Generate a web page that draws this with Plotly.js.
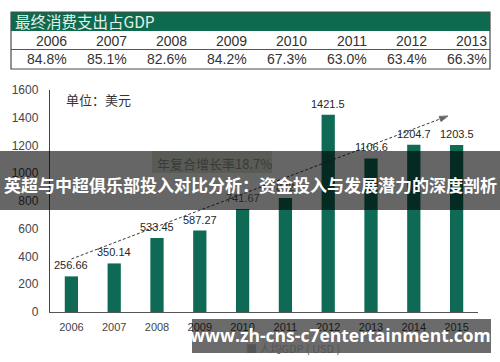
<!DOCTYPE html>
<html>
<head>
<meta charset="utf-8">
<script src="https://cdn.plot.ly/plotly-3.0.1.min.js"></script>
<style>html,body{margin:0;padding:0;background:#fff;}#chart{width:500px;height:362px;}</style>
</head>
<body>
<div id="chart"></div>
<script>
// ---- data ----
const tableTitle = '最终消费支出占GDP';
const tableYears = ['2006','2007','2008','2009','2010','2011','2012','2013'];
const tableShares = ['84.8%','85.1%','82.6%','84.2%','67.3%','63.0%','63.4%','66.3%'];

const years = ['2006','2007','2008','2009','2010','2011','2012','2013','2014','2015'];
const gdpPerCapita = [256.66, 350.14, 533.45, 587.27, 741.67, 822, 1421.5, 1106.6, 1204.7, 1203.5];
const barLabels = ['256.66','350.14','533.45','587.27','741.67','822','1421.5','1106.6','1204.7','1203.5'];

const trendX = [0, 8.8];
const trendY = [382, 1413];
const cagrText = '年复合增长率18.7%';
const unitText = '单位：美元';
const legendText = '■ 人均GDP ( USD )';
const overlayTitle = '英超与中超俱乐部投入对比分析：资金投入与发展潜力的深度剖析';
const watermark = 'www.zh-cns-c7entertainment.com';

// ---- helpers (pixel -> paper) ----
const W = 500, H = 362;
const px = x => x / W;
const py = y => 1 - y / H;
const CJK = '"Noto Sans CJK SC", "Noto Sans", sans-serif';
const NUM = '"Liberation Sans", Arial, sans-serif';

const idx = years.map((_, i) => i);

const traces = [
  {
    type: 'bar', x: idx, y: gdpPerCapita, width: 0.31,
    marker: {color: '#0e6a55'}, hoverinfo: 'skip', showlegend: false
  },
  {
    type: 'scatter', mode: 'lines+markers', x: trendX, y: trendY,
    line: {color: '#3a3a3a', width: 1, dash: '3px,2px'},
    marker: {symbol: 'arrow', angleref: 'previous', size: [0, 9], color: '#222'},
    hoverinfo: 'skip', showlegend: false
  }
];

const shapes = [];
const annotations = [];

// table
const tLeft = 11, tRight = 490, colW = 60, colStart = 10;
shapes.push({type:'rect', xref:'paper', yref:'paper', x0:px(tLeft), x1:px(tRight), y0:py(31), y1:py(12),
  fillcolor:'#0d6a4f', line:{width:0}});
shapes.push({type:'rect', xref:'paper', yref:'paper', x0:px(tLeft), x1:px(tRight), y0:py(69), y1:py(12),
  fillcolor:'rgba(0,0,0,0)', line:{color:'#4a4a4a', width:1.2}});
shapes.push({type:'line', xref:'paper', yref:'paper', x0:px(tLeft), x1:px(tRight), y0:py(49.5), y1:py(49.5),
  line:{color:'#555', width:1}});
annotations.push({xref:'paper', yref:'paper', x:px(13), y:py(21.5), xanchor:'left', yanchor:'middle',
  text: tableTitle, showarrow:false, font:{family:CJK, size:15.5, color:'#e6f0e6'}});
tableYears.forEach((yr, i) => {
  const xr = colStart + colW * (i + 1) - 1;
  annotations.push({xref:'paper', yref:'paper', x:px(xr), y:py(41), xanchor:'right', yanchor:'middle',
    text: yr, showarrow:false, font:{family:NUM, size:14, color:'#333'}});
  annotations.push({xref:'paper', yref:'paper', x:px(xr), y:py(59.5), xanchor:'right', yanchor:'middle',
    text: tableShares[i], showarrow:false, font:{family:NUM, size:14, color:'#333'}});
});

// bar value labels
idx.forEach(i => {
  annotations.push({x: i, y: gdpPerCapita[i], xref:'x', yref:'y', yshift: 11, yanchor:'middle',
    text: barLabels[i], showarrow:false, font:{family:NUM, size:11, color:'#262626'}});
});

// unit label
annotations.push({xref:'paper', yref:'paper', x:px(64), y:py(100), xanchor:'left', yanchor:'middle',
  text: unitText, showarrow:false, font:{family:CJK, size:13, color:'#333'}});

// CAGR box
shapes.push({type:'rect', xref:'paper', yref:'paper', x0:px(152), x1:px(272), y0:py(173), y1:py(151),
  fillcolor:'#dbe6d3', line:{width:0}, layer:'below'});
annotations.push({xref:'paper', yref:'paper', x:px(214), y:py(163), xanchor:'center', yanchor:'middle',
  text: cagrText, showarrow:false, font:{family:CJK, size:13, color:'#3a3a3a'}});

// legend (partly hidden)
annotations.push({xref:'paper', yref:'paper', x:px(244), y:py(348), xanchor:'left', yanchor:'middle',
  text: legendText, showarrow:false, font:{family:CJK, size:11, color:'#555'}});

// overlay bands
shapes.push({type:'rect', xref:'paper', yref:'paper', x0:0, x1:1, y0:py(210), y1:py(151),
  fillcolor:'rgba(0,0,0,0.6)', line:{width:0}, layer:'above'});
shapes.push({type:'rect', xref:'paper', yref:'paper', x0:px(192), x1:px(491), y0:py(353), y1:py(319),
  fillcolor:'rgba(0,0,0,0.58)', line:{width:0}, layer:'above'});

// overlay texts (annotations render above shapes)
annotations.push({xref:'paper', yref:'paper', x:0.5, y:py(184), xanchor:'center', yanchor:'middle',
  text: '<b>' + overlayTitle + '</b>', showarrow:false, font:{family:CJK, size:17, color:'#ffffff'}});
annotations.push({xref:'paper', yref:'paper', x:px(340), y:py(335), xanchor:'center', yanchor:'middle',
  text: '<b>' + watermark + '</b>', showarrow:false, font:{family:'"Open Sans", sans-serif', size:17.5, color:'#ffffff'}});

const layout = {
  width: W, height: H,
  margin: {l:0, r:0, t:0, b:0, pad:0},
  paper_bgcolor: '#fff', plot_bgcolor: '#fff',
  showlegend: false,
  xaxis: {
    domain: [px(50), px(478)], range: [-0.5, 9.5], tickvals: idx, ticktext: years,
    showgrid: false, zeroline: false, showline: true, linecolor: '#555', linewidth: 1.2,
    ticks: '', ticklabelstandoff: 5, automargin: false, fixedrange: true,
    tickfont: {family: NUM, size: 11, color: '#444'}
  },
  yaxis: {
    domain: [py(312), py(90)], range: [0, 1600], dtick: 200,
    showgrid: false, zeroline: false, showline: true, linecolor: '#444', linewidth: 1.2,
    ticks: '', ticklabelstandoff: 8, automargin: false, fixedrange: true,
    tickfont: {family: NUM, size: 12, color: '#444'}
  },
  shapes: shapes,
  annotations: annotations
};

Plotly.newPlot('chart', traces, layout, {staticPlot: true, displayModeBar: false});
</script>
</body>
</html>
